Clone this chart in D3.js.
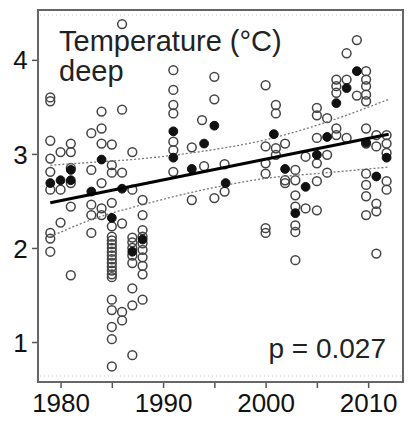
<!DOCTYPE html>
<html><head><meta charset="utf-8">
<script src="https://cdn.jsdelivr.net/npm/d3@7"></script>
<style>html,body{margin:0;padding:0;background:#fff;}svg{display:block;font-family:"Liberation Sans",Arial,sans-serif;}</style>
</head><body><svg id="c" width="411" height="421"></svg>
<script>
// ---- data ----
const columnYears = [1979.0, 1980.0, 1981.0, 1983.0, 1984.0, 1985.0, 1986.0, 1987.0, 1988.0,
  1991.0, 1992.8, 1993.8, 1994.0, 1995.0, 1996.0, 2000.0, 2001.0, 2001.9, 2002.9, 2003.9,
  2005.0, 2006.0, 2006.9, 2007.9, 2008.9, 2009.8, 2010.8, 2011.8];
const columnValues = [
  [3.60, 3.56, 3.14, 2.95, 2.81, 2.62, 2.16, 2.10, 1.96],
  [3.02, 2.62, 2.27],
  [3.11, 3.02, 2.85, 2.69, 2.44, 1.71],
  [3.22, 2.83, 2.46, 2.35, 2.16],
  [3.45, 3.27, 3.11, 2.69, 2.42, 2.35],
  [3.10, 2.88, 2.80, 2.48, 2.23, 2.12, 2.08, 2.04, 2.00, 1.96, 1.92, 1.88, 1.84, 1.80, 1.76, 1.72, 1.69, 1.45, 1.34, 1.16, 1.03, 0.74],
  [4.38, 3.47, 2.80, 2.26, 1.32, 1.23],
  [3.02, 2.62, 2.11, 2.06, 2.00, 1.92, 1.84, 1.57, 1.39, 0.86],
  [2.51, 2.35, 2.19, 2.12, 2.05, 1.98, 1.90, 1.81, 1.72, 1.45],
  [3.89, 3.68, 3.52, 3.43, 3.13, 3.04, 2.81],
  [3.07, 2.51],
  [3.36],
  [2.87],
  [3.82, 3.58, 2.53],
  [2.89, 2.60],
  [3.73, 3.08, 2.90, 2.79, 2.21, 2.16],
  [3.52, 3.43, 3.06, 2.99],
  [3.11, 2.72, 2.69],
  [2.83, 2.72, 2.56, 2.44, 2.24, 2.17, 1.87],
  [2.97, 2.42],
  [3.49, 3.41, 3.17, 2.90, 2.71, 2.40],
  [3.38, 2.99, 2.80],
  [3.79, 3.72, 3.65, 3.27, 3.20],
  [4.07, 3.79, 3.17],
  [4.21, 3.62],
  [3.88, 3.79, 3.72, 3.63, 3.56, 3.27, 3.11, 2.79, 2.67, 2.55, 2.35],
  [3.20, 3.08, 2.47, 2.39, 1.94],
  [3.20, 3.11, 3.01, 2.71, 2.62]
];
const meanYears  = [1979.0, 1980.0, 1981.0, 1981.0, 1983.0, 1984.0, 1985.0, 1986.0, 1987.0, 1988.0,
  1991.0, 1991.0, 1992.8, 1994.0, 1995.0, 1996.1, 2000.8, 2001.9, 2002.9, 2003.9,
  2005.0, 2006.0, 2006.9, 2007.9, 2008.9, 2009.8, 2010.8, 2011.8];
const meanValues = [2.69, 2.72, 2.72, 2.83, 2.60, 2.94, 2.32, 2.63, 1.96, 2.09,
  3.24, 2.96, 2.84, 3.11, 3.30, 2.69, 3.21, 2.84, 2.37, 2.65,
  2.99, 3.18, 3.54, 3.70, 3.88, 3.12, 2.76, 2.96];
const fitYears  = [1979, 2012];
const fitValues = [2.48, 3.21];
const ciYears = [1979, 1983, 1988, 1994, 2000, 2006, 2012];
const ciUpper = [2.88, 2.91, 2.95, 3.03, 3.15, 3.34, 3.58];
const ciLower = [2.12, 2.30, 2.46, 2.62, 2.74, 2.80, 2.86];
const xTicks = [1980, 1985, 1990, 1995, 2000, 2005, 2010];
const xLabels = [1980, 1990, 2000, 2010];
const yTicks = [1, 2, 3, 4];
const titleLines = ["Temperature (°C)", "deep"];
const pLabel = "p = 0.027";

// ---- drawing ----
const svg = d3.select("#c");
const L = 38, R = 403, T = 10, B = 382;
const x = d3.scaleLinear().domain([1977.8, 2013.4]).range([L, R]);
const y = d3.scaleLinear().domain([0.575, 4.53]).range([B, T]);

// faint dotted lines inside frame
svg.append("line").attr("x1", L+2).attr("x2", R-2).attr("y1", T+5).attr("y2", T+5)
  .attr("stroke", "#ccc").attr("stroke-dasharray", "1,3");
svg.append("line").attr("x1", L+2).attr("x2", R-2).attr("y1", B-6).attr("y2", B-6)
  .attr("stroke", "#ccc").attr("stroke-dasharray", "1,3");

// axes
const xAxis = d3.axisBottom(x).tickValues(xTicks).tickSize(6)
  .tickFormat(d => xLabels.includes(d) ? d : "");
const gx = svg.append("g").attr("transform", `translate(0,${B})`).call(xAxis);
const yAxis = d3.axisLeft(y).tickValues(yTicks).tickSize(6).tickFormat(d3.format("d"));
const gy = svg.append("g").attr("transform", `translate(${L},0)`).call(yAxis);
[gx, gy].forEach(g => {
  g.select(".domain").remove();
  g.selectAll(".tick line").attr("stroke", "#555").attr("stroke-width", 1.5);
  g.selectAll(".tick text").attr("fill", "#111").style("font-size", "26px")
    .style("font-family", "'Liberation Sans',Arial,sans-serif");
});
gx.selectAll(".tick text").attr("y", 12).attr("dy", "0.71em");
gy.selectAll(".tick text").attr("dx", "-0.05em").attr("dy", "0.35em");

// frame
svg.append("rect").attr("x", L).attr("y", T).attr("width", R-L).attr("height", B-T)
  .attr("fill", "none").attr("stroke", "#666").attr("stroke-width", 2);

// open circles
const pts = [];
columnYears.forEach((yr, i) => columnValues[i].forEach(v => pts.push([yr, v])));
svg.append("g").selectAll("circle").data(pts).join("circle")
  .attr("cx", d => x(d[0])).attr("cy", d => y(d[1])).attr("r", 4.4)
  .attr("fill", "none").attr("stroke", "#444").attr("stroke-width", 1.5);

// confidence band lines
const ln = d3.line().curve(d3.curveMonotoneX);
[ciUpper, ciLower].forEach(arr => {
  svg.append("path").attr("d", ln(ciYears.map((yr, i) => [x(yr), y(arr[i])])))
    .attr("fill", "none").attr("stroke", "#777").attr("stroke-width", 1.3)
    .attr("stroke-dasharray", "2,2");
});

// means
svg.append("g").selectAll("circle").data(meanYears.map((yr, i) => [yr, meanValues[i]])).join("circle")
  .attr("cx", d => x(d[0])).attr("cy", d => y(d[1])).attr("r", 4.4)
  .attr("fill", "#111").attr("stroke", "#111");

// regression line
svg.append("path").attr("d", d3.line()(fitYears.map((yr, i) => [x(yr), y(fitValues[i])])))
  .attr("stroke", "#000").attr("stroke-width", 3).attr("fill", "none");

// labels
svg.append("text").attr("x", 59).attr("y", 51).text(titleLines[0])
  .style("font-size", "29px").attr("fill", "#222");
svg.append("text").attr("x", 59).attr("y", 81).text(titleLines[1])
  .style("font-size", "29px").attr("fill", "#222");
svg.append("text").attr("x", 386).attr("y", 358).attr("text-anchor", "end").text(pLabel)
  .style("font-size", "28px").attr("fill", "#222");
</script></body></html>
